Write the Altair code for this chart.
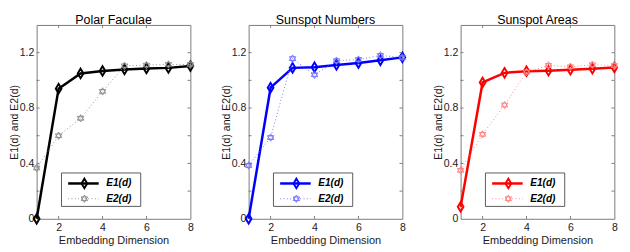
import altair as alt
import pandas as pd

# ---- data ----
dims = [1, 2, 3, 4, 5, 6, 7, 8]

titles = ["Polar Faculae", "Sunspot Numbers", "Sunspot Areas"]

pf_e1 = [0.0, 0.94, 1.05, 1.068, 1.079, 1.086, 1.09, 1.103]
pf_e2 = [0.367, 0.60, 0.726, 0.92, 1.105, 1.11, 1.115, 1.115]

sn_e1 = [0.0, 0.947, 1.09, 1.095, 1.111, 1.125, 1.145, 1.166]
sn_e2 = [0.385, 0.587, 1.157, 1.04, 1.142, 1.15, 1.18, 1.165]

sa_e1 = [0.087, 0.985, 1.054, 1.066, 1.07, 1.077, 1.084, 1.093]
sa_e2 = [0.35, 0.61, 0.822, 1.06, 1.108, 1.098, 1.113, 1.107]

e1_colors = ["#000000", "#0000ff", "#ff0000"]
e2_colors = ["#8c8c8c", "#7070ff", "#ff7f7f"]

series_names = ["E1(d)", "E2(d)"]

x_tick_vals = [2, 4, 6, 8]
y_tick_vals = [0, 0.2, 0.4, 0.6, 0.8, 1.0, 1.2]

W = 161
H = 203
FONT = "Liberation Sans"

DIAMOND = "M0,-1L0.6,0L0,1L-0.6,0Z"
HEXAGRAM = "M0,-1L0.866,0.5L-0.866,0.5Z M0,1L0.866,-0.5L-0.866,-0.5Z"

xscale = alt.Scale(domain=[1, 8], nice=False, zero=False)
yscale = alt.Scale(domain=[0, 1.4], nice=False)


def panel(title, e1, e2, c1, c2):
    df = pd.DataFrame({"d": dims, "E1": e1, "E2": e2})
    base = alt.Chart(df)
    xenc = alt.X("d:Q", scale=xscale,
                 axis=alt.Axis(values=x_tick_vals, format="d", title="Embedding Dimension",
                               grid=False, ticks=False, domain=False, labelPadding=3,
                               labelFlush=False, labelOverlap=False, titlePadding=3,
                               titleFontSize=11.5))
    yaxis = alt.Axis(values=y_tick_vals, format="~g", title="E1(d) and E2(d)",
                     grid=False, ticks=False, domain=False, labelPadding=3,
                     labelOverlap=False, minExtent=18, maxExtent=18, titlePadding=0,
                     titleFontSize=11)

    e1_line = base.mark_line(color=c1, strokeWidth=2.6).encode(
        x=xenc, y=alt.Y("E1:Q", scale=yscale, axis=yaxis))
    e1_pts = base.mark_point(shape=DIAMOND, size=100, filled=False, color=c1,
                             strokeWidth=2, opacity=1).encode(x="d:Q", y="E1:Q")
    e2_line = base.mark_line(color=c2, strokeWidth=1, strokeDash=[1, 2.5]).encode(
        x="d:Q", y="E2:Q")
    e2_pts = base.mark_point(shape=HEXAGRAM, size=60, filled=False, color=c2,
                             strokeWidth=1, opacity=1).encode(x="d:Q", y="E2:Q")

    # inward tick marks (MATLAB style)
    ydf = pd.DataFrame({"v": y_tick_vals[1:]})
    xdf = pd.DataFrame({"v": x_tick_vals[:-1]})
    tcol = "#777777"
    yt_l = alt.Chart(ydf).mark_rule(color=tcol).encode(
        y="v:Q", x=alt.value(0), x2=alt.value(3))
    yt_r = alt.Chart(ydf).mark_rule(color=tcol).encode(
        y="v:Q", x=alt.value(W - 3), x2=alt.value(W))
    xt_b = alt.Chart(xdf).mark_rule(color=tcol).encode(
        x="v:Q", y=alt.value(H - 3), y2=alt.value(H))
    xt_t = alt.Chart(xdf).mark_rule(color=tcol).encode(
        x="v:Q", y=alt.value(0), y2=alt.value(3))

    # legend box
    one = alt.Data(values=[{"k": 0}])
    lg_box = alt.Chart(one).mark_rect(fill="white", stroke="#555555", strokeWidth=1).encode(
        x=alt.value(26), x2=alt.value(109), y=alt.value(H - 48), y2=alt.value(H - 13))
    r1 = H - 37
    r2 = H - 21
    lg_l1 = alt.Chart(one).mark_rule(color=c1, strokeWidth=2.6).encode(
        x=alt.value(33), x2=alt.value(65), y=alt.value(r1))
    lg_p1 = alt.Chart(one).mark_point(shape=DIAMOND, size=100, filled=False, color=c1,
                                      strokeWidth=2, opacity=1).encode(
        x=alt.value(50), y=alt.value(r1))
    lg_l2 = alt.Chart(one).mark_rule(color=c2, strokeWidth=1, strokeDash=[1, 2.5]).encode(
        x=alt.value(33), x2=alt.value(65), y=alt.value(r2))
    lg_p2 = alt.Chart(one).mark_point(shape=HEXAGRAM, size=60, filled=False, color=c2,
                                      strokeWidth=1, opacity=1).encode(
        x=alt.value(50), y=alt.value(r2))
    lg_t1 = alt.Chart(one).mark_text(text=series_names[0], align="left", baseline="middle",
                                     fontStyle="italic", fontWeight="bold", fontSize=10.5,
                                     font=FONT, color="#000000").encode(
        x=alt.value(73), y=alt.value(r1))
    lg_t2 = alt.Chart(one).mark_text(text=series_names[1], align="left", baseline="middle",
                                     fontStyle="italic", fontWeight="bold", fontSize=10.5,
                                     font=FONT, color="#000000").encode(
        x=alt.value(73), y=alt.value(r2))

    return alt.layer(
        e1_line, e1_pts, e2_line, e2_pts,
        yt_l, yt_r, xt_b, xt_t,
        lg_box, lg_l1, lg_p1, lg_l2, lg_p2, lg_t1, lg_t2,
    ).properties(
        width=W, height=H,
        title=alt.TitleParams(title, fontSize=13, fontWeight="normal", font=FONT,
                              color="#000000", offset=-2),
    )


p1 = panel(titles[0], pf_e1, pf_e2, e1_colors[0], e2_colors[0])
p2 = panel(titles[1], sn_e1, sn_e2, e1_colors[1], e2_colors[1])
p3 = panel(titles[2], sa_e1, sa_e2, e1_colors[2], e2_colors[2])

chart = alt.hconcat(p1, p2, p3, spacing=23).properties(
    padding=0, background="white"
).configure_view(
    stroke="#777777", strokeWidth=1
).configure_axis(
    labelFont=FONT, titleFont=FONT, labelFontSize=11, titleFontSize=11,
    labelColor="#1a1a1a", titleColor="#1a1a1a", titleFontWeight="normal",
)

chart.save("out.html", embed_options={"renderer": "svg", "actions": False})
